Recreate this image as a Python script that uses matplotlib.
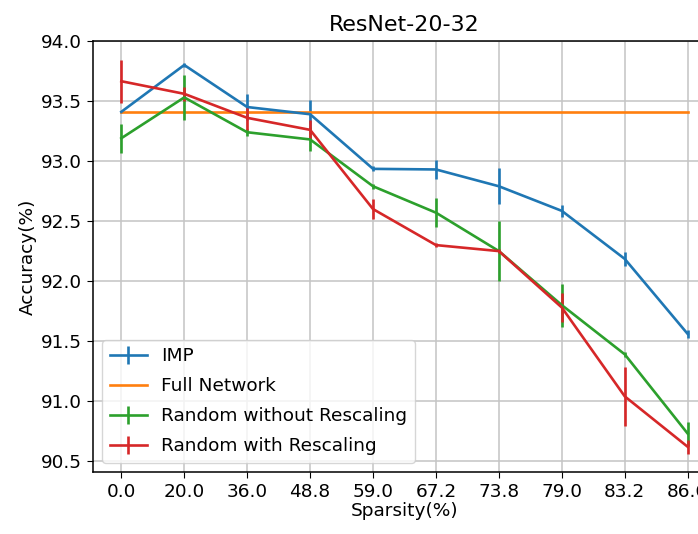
import matplotlib
matplotlib.use("Agg")
import matplotlib.pyplot as plt
import numpy as np

sparsity = ["0.0", "20.0", "36.0", "48.8", "59.0", "67.2", "73.8", "79.0", "83.2", "86.6"]

imp = [93.41, 93.80, 93.45, 93.39, 92.935, 92.93, 92.79, 92.585, 92.185, 91.56]
imp_err = [0.01, 0.02, 0.11, 0.12, 0.02, 0.08, 0.15, 0.05, 0.06, 0.03]

full_network = 93.41

rand_no_rescale = [93.19, 93.53, 93.24, 93.18, 92.79, 92.57, 92.25, 91.80, 91.39, 90.73]
rand_no_rescale_err = [0.12, 0.19, 0.03, 0.10, 0.02, 0.12, 0.25, 0.18, 0.02, 0.10]

rand_rescale = [93.665, 93.56, 93.36, 93.26, 92.60, 92.30, 92.25, 91.78, 91.04, 90.62]
rand_rescale_err = [0.18, 0.06, 0.10, 0.08, 0.08, 0.02, 0.02, 0.12, 0.245, 0.06]

fs = 13.3
lw = 1.9
plt.rcParams['font.size'] = fs
plt.rcParams['xtick.major.size'] = 4.4
plt.rcParams['ytick.major.size'] = 4.4
plt.rcParams['axes.linewidth'] = 1.1

fig = plt.figure(figsize=(6.98, 5.34), dpi=100)
ax = fig.add_axes([93 / 698, 62 / 534, 623 / 698, 431 / 534])

x = np.arange(len(sparsity))
h1 = ax.errorbar(x, imp, yerr=imp_err, color='tab:blue', lw=lw, elinewidth=lw, label='IMP')
h2, = ax.plot(x, [full_network] * len(x), color='tab:orange', lw=lw, label='Full Network')
h3 = ax.errorbar(x, rand_no_rescale, yerr=rand_no_rescale_err, color='tab:green', lw=lw,
                 elinewidth=lw, label='Random without Rescaling')
h4 = ax.errorbar(x, rand_rescale, yerr=rand_rescale_err, color='tab:red', lw=lw,
                 elinewidth=lw, label='Random with Rescaling')

ax.set_xticks(x)
ax.set_xticklabels(sparsity)
ax.set_xlim(-0.45, 9.45)
ax.set_ylim(90.41, 94.0)
ax.set_yticks(np.arange(90.5, 94.01, 0.5))
ax.grid(True, color='#c4c4c4', lw=1.1)
ax.set_axisbelow(True)
ax.set_xlabel('Sparsity(%)', labelpad=1)
ax.set_ylabel('Accuracy(%)', labelpad=3)
ax.set_title('ResNet-20-32', pad=7)
ax.legend([h1, h2, h3, h4], [h.get_label() for h in [h1, h2, h3, h4]],
          loc='lower left', fontsize=fs, labelspacing=0.65)

fig.savefig('out.png', dpi=100)
